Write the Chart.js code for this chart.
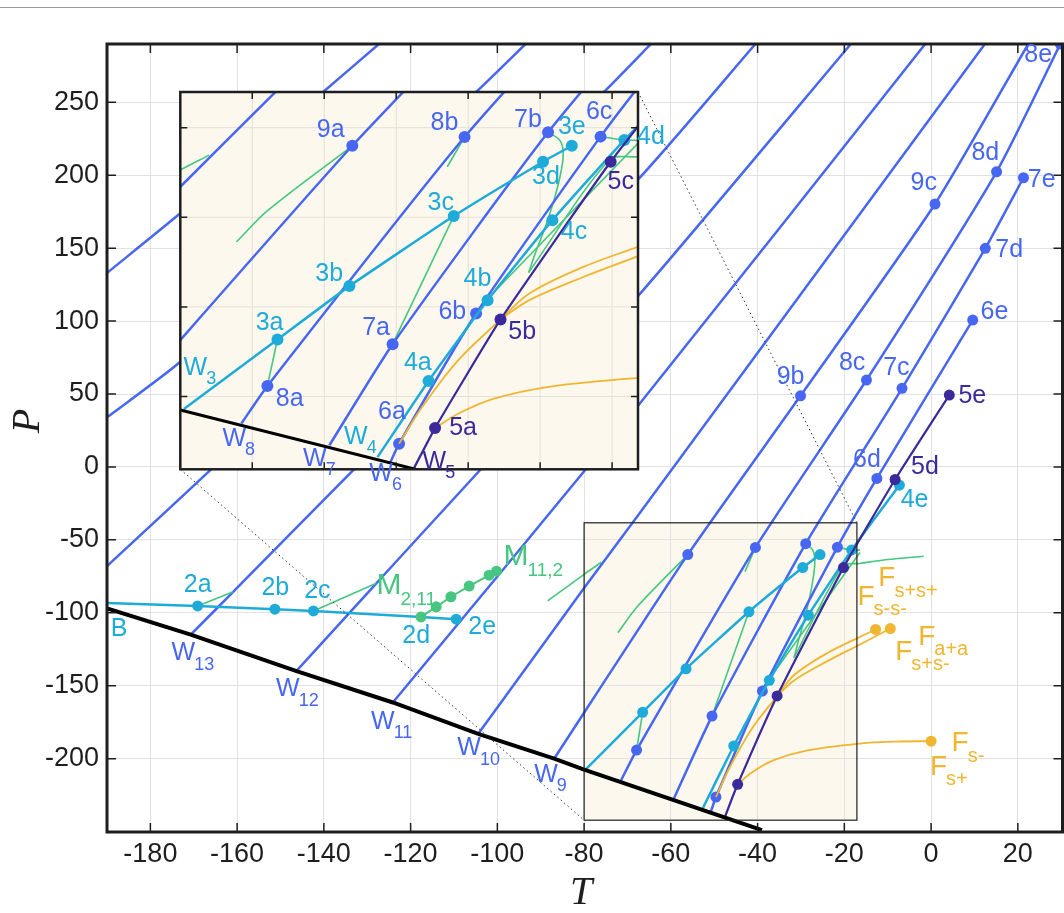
<!DOCTYPE html>
<html>
<head>
<meta charset="utf-8">
<script src="https://cdn.jsdelivr.net/npm/chart.js@4.4.0/dist/chart.umd.min.js"></script>
<style>
  body { margin: 0; background: #fff; }
  #wrap { position: relative; width: 1064px; height: 913px; overflow: hidden; }
  #topRule { position: absolute; left: 0; top: 7px; width: 1064px; height: 1px; background: #9a9a9a; }
  #main { position: absolute; left: 0; top: 0; width: 1064px; height: 913px; }
  #inset { position: absolute; left: 150px; top: 62px; width: 540px; height: 440px; }
</style>
</head>
<body>
<div id="wrap">
  <div id="topRule"></div>
  <canvas id="main" width="1064" height="913"></canvas>
  <canvas id="inset" width="540" height="440"></canvas>
</div>
<script>
// axes
const xTicks = [-180, -160, -140, -120, -100, -80, -60, -40, -20, 0, 20];
const yTicks = [-200, -150, -100, -50, 0, 50, 100, 150, 200, 250];
const insetXTicks = [-70, -60, -50, -40, -30, -20];
const insetYTicks = [-200, -150, -100, -50];
const winT = [-80, -17.1];      // zoom window drawn on the main plot
const winP = [-242.2, -38.3];
const insetT = [-80, -16.4];    // range shown in the inset
const insetP = [-240.6, -30.1];

// boundary (black)
const bndT = [-190, -170.7, -146.3, -124.1, -104.4, -86.9, -80, -39];
const bndP = [-97, -115, -140, -161.5, -183, -200, -207.5, -249];

// W lines
const l16T = [-190, -173.1, -140.1, -127.3], l16P = [133, 173.9, 257.3, 290];
const l15T = [-190, -173.1, -104.9, -93.5], l15P = [34, 72.1, 257.1, 290];
const l14T = [-190, -166.2, -75, -64.6], l14P = [-68, -2.2, 258.4, 290];
const w13T = [-170.7, -160.9, -67.7, -40.5], w13P = [-115, -85.6, 196.7, 290];
const w12T = [-146.3, -127.9, -67.7, -18.5], w12P = [-139.8, -79.8, 116.7, 290];
const w11T = [-124.1, -67.7, -1.35], w11P = [-161.5, 41.4, 290];
const w10T = [-104.4, -80, -67.5, 12.4], w10P = [-183, -83, -33, 290];
const w9T = [-86.9, -56.1, -30.1, 0.9, 22.4], w9P = [-200, -60.1, 48.8, 180.3, 290];
const w8T = [-71.5, -67.9, -40.5, -14.9, 15.1, 29.8], w8P = [-215, -194.1, -55.2, 59.6, 202.4, 290];
const w7T = [-59.3, -50.5, -28.9, -6.7, 12.5, 21.3], w7P = [-227.3, -170.8, -52.6, 53.9, 149.9, 198.3];
const w6T = [-50.9, -49.6, -38.9, -21.6, -12.5, 9.6], w6P = [-237.5, -226.3, -153.7, -55, -7.9, 100.7];
const w5T = [-47.5, -44.6, -35.5, -20.2, -8.3, 4.2], w5P = [-239.7, -217.6, -157, -69, -8.6, 49.3];
const w4T = [-52.6, -45.5, -37.3, -28.3, -18.3, -7.3], w4P = [-233.8, -191.3, -146.3, -101.6, -56.9, -12.5];
const w3T = [-79.5, -66.5, -56.5, -42, -29.6, -25.6], w3P = [-207, -168.2, -138.4, -99.3, -69, -60.1];
const w9Dots = [1, 2, 3];
const abcde = [1, 2, 3, 4, 5];

// B line and M points
const bLineT = [-190, -169.1, -151.3, -142.4, -117.6, -109.5];
const bLineP = [-93.2, -95.3, -97.5, -98.7, -102.8, -104.4];
const bDots = [1, 2, 3, 5];
const mT = [-117.6, -114.1, -110.7, -106.5, -101.9, -100.2];
const mP = [-102.8, -95.9, -89.0, -81.7, -74.2, -71.5];

// green curves
const g2aT = [-169.1, -160.9], g2aP = [-95.3, -85.6];
const g2cT = [-142.4, -127.9], g2cP = [-98.7, -79.8];
const g10T = [-88.4, -80, -76], g10P = [-91.8, -73.6, -65.3];
const g9aT = [-72.2, -67.8, -56.1], g9aP = [-113.7, -96, -60.1];
const g8bT = [-42.9, -40.5], g8bP = [-71.8, -55.2];
const g7aT = [-50.5, -42], g7aP = [-170.8, -99.3];
const g3aT = [-66.5, -67.9], g3aP = [-168.2, -194.1];
const g7bT = [-28.9, -27.3, -26.8, -27.1, -28.0, -29.2, -30.6, -31.6];
const g7bP = [-52.6, -56.9, -63.4, -74.6, -89.4, -104.4, -119.3, -130.8];
const g4bT = [-37.5, -16.4], g4bP = [-146.3, -58.7];
const g5cT = [-31.6, -20.4, -16.5, -10, -1.7], g5cP = [-130.8, -68, -66.2, -63.5, -61.2];
const g6cT = [-21.6, -18.3, -16.4], g6cP = [-55, -56.9, -57];

// yellow F curves
const f1T = [-49.6, -46.4, -41.4, -35.5], f1P = [-226.3, -205.9, -179.8, -157];
const f2T = [-35.5, -31.5, -24.0, -16.4, -12.8], f2P = [-157, -142.5, -127.7, -116.5, -111.4];
const f3T = [-35.5, -31.5, -24.0, -16.4, -9.4], f3P = [-157, -146.2, -133.3, -121.7, -110.8];
const f4T = [-44.6, -41.4, -36.4, -29.0, -16.4, -8, 0], f4P = [-217.6, -209.6, -201.2, -194.7, -189.7, -188.3, -188];

// labels [text, subscript, T, P]
const mainBlueLabels = [['9b', '', -32.4, 61.4], ['9c', '', -1.7, 194.5], ['8c', '', -18.2, 71.4], ['8d', '', 12.5, 215],
  ['8e', '', 24.7, 282.5], ['7c', '', -8.0, 67.6], ['7d', '', 18.0, 148.7], ['7e', '', 25.5, 196.7],
  ['6d', '', -14.8, 4.7], ['6e', '', 14.6, 106.4], ['W', '13', -172.4, -127.9], ['W', '12', -148.3, -152.6],
  ['W', '11', -126.4, -174.8], ['W', '10', -106.5, -193.1], ['W', '9', -88.8, -211.4]];
const mainDarkLabels = [['5d', '', -1.4, 0.1], ['5e', '', 9.5, 48.6]];
const mainCyanLabels = [['4e', '', -3.8, -22.8], ['2a', '', -169.1, -81.1], ['2b', '', -151.2, -83.3],
  ['2c', '', -141.5, -85.2], ['2d', '', -118.7, -116.0], ['2e', '', -103.5, -110.1], ['B', '', -187.2, -111.4]];
const mainGreenLabels = [['M', '2,11', -125.0, -81.7], ['M', '11,2', -95.7, -61.6]];
const mainYellowLabels = [['F', 's+s+', -10.2, -76.5], ['F', 's-s-', -15.0, -89.1], ['F', 'a+a', -1.0, -116.5],
  ['F', 's+s-', -6.3, -126.8], ['F', 's-', 6.7, -189.6], ['F', 's+', 1.7, -205.7]];
const insetBlueLabels = [['9a', '', -59.1, -51.3], ['8a', '', -64.8, -201.2], ['8b', '', -43.3, -47.5],
  ['7a', '', -52.8, -162.1], ['7b', '', -31.7, -45.7], ['6a', '', -50.6, -208.7], ['6b', '', -42.2, -152.8],
  ['6c', '', -21.8, -41.1], ['W', '8', -72.5, -223.5], ['W', '7', -61.3, -234.7], ['W', '6', -52.1, -243.1]];
const insetDarkLabels = [['5a', '', -40.7, -217.6], ['5b', '', -32.5, -164], ['5c', '', -18.8, -80.2], ['W', '5', -44.7, -236.6]];
const insetCyanLabels = [['4a', '', -47, -181.6], ['4b', '', -38.7, -134.7], ['4c', '', -25.3, -108.1], ['4d', '', -14.6, -55],
  ['3a', '', -67.6, -159.3], ['3b', '', -59.3, -131.9], ['3c', '', -43.8, -91.9], ['3d', '', -29.2, -77.4],
  ['3e', '', -25.6, -49.8], ['W', '3', -77.9, -183.9], ['W', '4', -55.6, -222.6]];

const BLUE = '#4767f2', CYAN = '#1eabd9', DARK = '#3a2a9c', GREEN = '#46c680', YELLOW = '#efb630';
const BEIGE = '#fcf8ee', INK = '#1e1e1e';
const SANS = '"Liberation Sans", Arial, Helvetica, sans-serif';
const INSET_BOX = { left: 180.3, top: 92, right: 638, bottom: 469.3 };

function series(T, P, color, width, dots, radius, tension) {
  return {
    data: T.map((t, i) => ({ x: t, y: P[i] })),
    showLine: true,
    borderColor: color,
    backgroundColor: color,
    borderWidth: width,
    pointRadius: T.map((_, i) => (dots.indexOf(i) >= 0 ? radius : 0)),
    pointBorderWidth: 0,
    pointHoverRadius: 0,
    tension: tension || 0,
    fill: false
  };
}

function makeDatasets(r, bw) {
  const list = [
    series(l16T, l16P, BLUE, 2.5, [], r, 0.2),
    series(l15T, l15P, BLUE, 2.5, [], r, 0.2),
    series(l14T, l14P, BLUE, 2.5, [], r, 0.2),
    series(w13T, w13P, BLUE, 2.5, [], r, 0.2),
    series(w12T, w12P, BLUE, 2.5, [], r, 0.2),
    series(w11T, w11P, BLUE, 2.5, [], r, 0.2),
    series(w10T, w10P, BLUE, 2.5, [], r, 0.2),
    series(g10T, g10P, GREEN, 1.6, [], r, 0.3),
    series(g9aT, g9aP, GREEN, 1.6, [], r, 0.3),
    series(g8bT, g8bP, GREEN, 1.6, [], r, 0),
    series(g7aT, g7aP, GREEN, 1.6, [], r, 0),
    series(g3aT, g3aP, GREEN, 1.6, [], r, 0),
    series(g7bT, g7bP, GREEN, 1.6, [], r, 0.4),
    series(g4bT, g4bP, GREEN, 1.6, [], r, 0),
    series(g5cT, g5cP, GREEN, 1.6, [], r, 0.3),
    series(g6cT, g6cP, GREEN, 1.6, [], r, 0.3),
    series(g2aT, g2aP, GREEN, 1.6, [], r, 0),
    series(g2cT, g2cP, GREEN, 1.6, [], r, 0),
    series(w9T, w9P, BLUE, 2.5, w9Dots, r, 0.2),
    series(w8T, w8P, BLUE, 2.5, abcde, r, 0.2),
    series(w7T, w7P, BLUE, 2.5, abcde, r, 0.2),
    series(w6T, w6P, BLUE, 2.5, abcde, r, 0.2),
    series(f1T, f1P, YELLOW, 1.8, [], r, 0.35),
    series(f2T, f2P, YELLOW, 1.8, [4], r, 0.35),
    series(f3T, f3P, YELLOW, 1.8, [4], r, 0.35),
    series(f4T, f4P, YELLOW, 1.8, [6], r, 0.35),
    series(w3T, w3P, CYAN, 2.5, abcde, r, 0.15),
    series(w4T, w4P, CYAN, 2.5, abcde, r, 0.15),
    series(bLineT, bLineP, CYAN, 2.5, bDots, r, 0),
    series(w5T, w5P, DARK, 2.2, abcde, r, 0.15),
    series(mT, mP, GREEN, 2, [0, 1, 2, 3, 4, 5], r, 0),
    series(bndT, bndP, '#000000', bw, [], r, 0)
  ];
  return list.reverse(); // first dataset is drawn on top
}

function label(ctx, text, sub, px, py, color, size, subSize) {
  ctx.save();
  ctx.fillStyle = color;
  ctx.textBaseline = 'middle';
  ctx.textAlign = 'center';
  ctx.font = size + 'px ' + SANS;
  ctx.fillText(text, px, py);
  if (sub) {
    const w = ctx.measureText(text).width;
    ctx.font = subSize + 'px ' + SANS;
    ctx.textAlign = 'left';
    ctx.fillText(sub, px + w / 2 - 1, py + size * 0.45);
  }
  ctx.restore();
}

function drawLabels(chart, list, color, size, subSize) {
  const { ctx, scales: { x, y } } = chart;
  list.forEach(l => label(ctx, l[0], l[1], x.getPixelForValue(l[2]), y.getPixelForValue(l[3]), color, size, subSize));
}

function frameAndTicks(chart, xs, ys, lw, len) {
  const { ctx, chartArea: a, scales: { x, y } } = chart;
  ctx.save();
  ctx.strokeStyle = INK;
  ctx.lineWidth = 1.5;
  ctx.beginPath();
  xs.forEach(v => {
    const px = x.getPixelForValue(v);
    ctx.moveTo(px, a.bottom); ctx.lineTo(px, a.bottom - len);
    ctx.moveTo(px, a.top); ctx.lineTo(px, a.top + len);
  });
  ys.forEach(v => {
    const py = y.getPixelForValue(v);
    ctx.moveTo(a.left, py); ctx.lineTo(a.left + len, py);
    ctx.moveTo(a.right, py); ctx.lineTo(a.right - len, py);
  });
  ctx.stroke();
  ctx.lineWidth = lw;
  ctx.strokeRect(a.left, a.top, a.right - a.left, a.bottom - a.top);
  ctx.restore();
}

const mainDeco = {
  id: 'mainDeco',
  beforeDraw(chart) {
    const { ctx, scales: { x, y } } = chart;
    const l = x.getPixelForValue(winT[0]), r = x.getPixelForValue(winT[1]);
    const t = y.getPixelForValue(winP[1]), b = y.getPixelForValue(winP[0]);
    ctx.save();
    ctx.fillStyle = BEIGE;
    ctx.fillRect(l, t, r - l, b - t);
    ctx.restore();
  },
  afterDatasetsDraw(chart) {
    const { ctx, scales: { x, y } } = chart;
    const l = x.getPixelForValue(winT[0]), r = x.getPixelForValue(winT[1]);
    const t = y.getPixelForValue(winP[1]), b = y.getPixelForValue(winP[0]);
    ctx.save();
    ctx.strokeStyle = INK;
    ctx.lineWidth = 1.2;
    ctx.strokeRect(l, t, r - l, b - t);
    ctx.setLineDash([1.5, 3]);
    ctx.lineWidth = 1;
    ctx.strokeStyle = '#333';
    ctx.beginPath();
    ctx.moveTo(INSET_BOX.right, INSET_BOX.top); ctx.lineTo(r, t);
    ctx.moveTo(INSET_BOX.left, INSET_BOX.bottom); ctx.lineTo(l, b);
    ctx.stroke();
    ctx.restore();

    frameAndTicks(chart, xTicks, yTicks, 3, 9);

    drawLabels(chart, mainBlueLabels, BLUE, 25, 18);
    drawLabels(chart, mainDarkLabels, DARK, 25, 18);
    drawLabels(chart, mainCyanLabels, CYAN, 25, 18);
    drawLabels(chart, mainGreenLabels, GREEN, 30, 19);
    drawLabels(chart, mainYellowLabels, YELLOW, 28, 20);

    ctx.save();
    ctx.fillStyle = INK;
    ctx.font = 'italic 40px "Liberation Serif", "DejaVu Serif", serif';
    ctx.textAlign = 'center';
    ctx.textBaseline = 'middle';
    ctx.fillText('T', 581, 893);
    ctx.translate(28, 421);
    ctx.rotate(-Math.PI / 2);
    ctx.fillText('P', 0, 0);
    ctx.restore();
  }
};

const insetDeco = {
  id: 'insetDeco',
  beforeDraw(chart) {
    const { ctx, chartArea: a, scales: { x, y } } = chart;
    ctx.save();
    ctx.fillStyle = BEIGE;
    ctx.fillRect(a.left, a.top, a.right - a.left, a.bottom - a.top);
    ctx.strokeStyle = '#e3e0d8';
    ctx.lineWidth = 1;
    ctx.beginPath();
    insetXTicks.forEach(v => { const px = x.getPixelForValue(v); ctx.moveTo(px, a.top); ctx.lineTo(px, a.bottom); });
    insetYTicks.forEach(v => { const py = y.getPixelForValue(v); ctx.moveTo(a.left, py); ctx.lineTo(a.right, py); });
    ctx.stroke();
    ctx.restore();
  },
  afterDatasetsDraw(chart) {
    frameAndTicks(chart, insetXTicks, insetYTicks, 2.5, 7);
    drawLabels(chart, insetBlueLabels, BLUE, 25, 18);
    drawLabels(chart, insetDarkLabels, DARK, 25, 18);
    drawLabels(chart, insetCyanLabels, CYAN, 25, 18);
  }
};

const insetChart = new Chart(document.getElementById('inset'), {
  type: 'scatter',
  data: { datasets: makeDatasets(6, 3) },
  options: {
    responsive: false, animation: false, events: [],
    layout: {
      autoPadding: false,
      padding: { left: INSET_BOX.left - 150, top: INSET_BOX.top - 62, right: 690 - INSET_BOX.right, bottom: 502 - INSET_BOX.bottom }
    },
    plugins: { legend: { display: false }, tooltip: { enabled: false } },
    scales: {
      x: { type: 'linear', min: insetT[0], max: insetT[1], display: false },
      y: { type: 'linear', min: insetP[0], max: insetP[1], display: false }
    }
  },
  plugins: [insetDeco]
});

const tickFont = { family: SANS, size: 27 };
const mainChart = new Chart(document.getElementById('main'), {
  type: 'scatter',
  data: { datasets: makeDatasets(5.5, 4) },
  options: {
    responsive: false, animation: false, events: [],
    layout: { autoPadding: false, padding: { left: 0, top: 44, right: 1.5, bottom: 0 } },
    plugins: { legend: { display: false }, tooltip: { enabled: false } },
    scales: {
      x: {
        type: 'linear', min: -190, max: 30.3,
        afterBuildTicks: s => { s.ticks = xTicks.map(v => ({ value: v })); },
        afterFit: s => { s.height = 81; s.paddingLeft = 0; s.paddingRight = 0; },
        grid: { color: '#e2e2e2', lineWidth: 1, drawTicks: false },
        border: { display: false },
        ticks: { font: tickFont, color: INK, padding: 6, maxRotation: 0, autoSkip: false, callback: v => String(v) }
      },
      y: {
        type: 'linear', min: -250.3, max: 290,
        afterBuildTicks: s => { s.ticks = yTicks.map(v => ({ value: v })); },
        afterFit: s => { s.width = 107; s.paddingTop = 0; s.paddingBottom = 0; },
        grid: { color: '#e2e2e2', lineWidth: 1, drawTicks: false },
        border: { display: false },
        ticks: { font: tickFont, color: INK, padding: 8, autoSkip: false, callback: v => String(v) }
      }
    }
  },
  plugins: [mainDeco]
});
</script>
</body>
</html>
